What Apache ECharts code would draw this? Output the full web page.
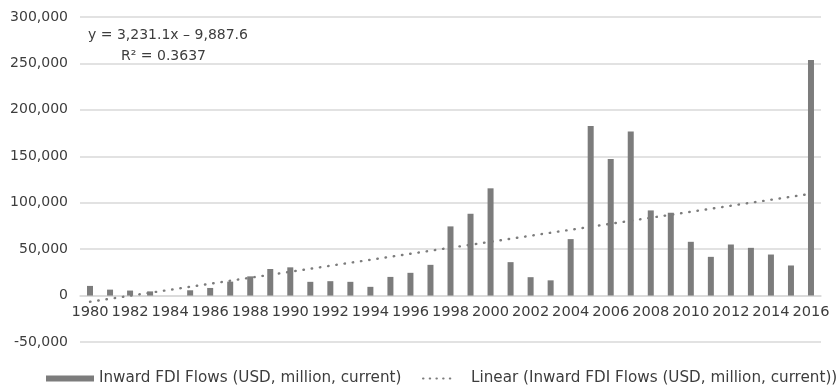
<!DOCTYPE html>
<html>
<head>
<meta charset="utf-8">
<script src="https://cdn.jsdelivr.net/npm/echarts@6/dist/echarts.min.js"></script>
<style>
  html, body { margin: 0; padding: 0; background: #ffffff; }
  #chart { width: 837px; height: 387px; }
</style>
</head>
<body>
<div id="chart"></div>
<script>
// Inward FDI flows, USD million (current prices), 1980–2016
const years = [
  '1980','1981','1982','1983','1984','1985','1986','1987','1988','1989',
  '1990','1991','1992','1993','1994','1995','1996','1997','1998','1999',
  '2000','2001','2002','2003','2004','2005','2006','2007','2008','2009',
  '2010','2011','2012','2013','2014','2015','2016'
];
const inwardFdi = [
  10400, 6400, 5400, 4500, 0, 5700, 8200, 15000, 20700, 28600,
  30400, 14800, 15500, 14800, 9400, 20100, 24500, 33100, 74500, 88100,
  115500, 36000, 19800, 16400, 60800, 182700, 147100, 176600, 91700, 89200,
  57900, 41700, 55000, 51400, 44200, 32400, 253600
];

// Least-squares trend reported for the series (x = 1 for the first year)
const trendSlope = 3231.1;
const trendIntercept = -9887.6;
const trendR2 = 0.3637;

// Value axis ticks
const yMin = -50000;
const yMax = 300000;
const yStep = 50000;

const barName = 'Inward FDI Flows (USD, million, current)';
const trendName = 'Linear (Inward FDI Flows (USD, million, current))';

const fmt = (v, d) => Math.abs(v).toLocaleString('en-US', { minimumFractionDigits: d, maximumFractionDigits: d });
const eqText = 'y = ' + fmt(trendSlope, 1) + 'x ' + (trendIntercept < 0 ? '\u2013 ' : '+ ') + fmt(trendIntercept, 1);
const r2Text = 'R\u00B2 = ' + trendR2.toFixed(4);

// Trend endpoints at the first and last category
const trendLine = [
  [0, trendSlope * 1 + trendIntercept],
  [years.length - 1, trendSlope * years.length + trendIntercept]
];

const textColor = '#3d3d3d';
const gridColor = '#d9d9d9';
const seriesGrey = '#7c7c7c';
const font = 'DejaVu Sans';

const gridTop = 17, gridBottom = 45, chartHeight = 387;
// The category axis sits on the zero line: lift it from the grid bottom
const plotHeight = chartHeight - gridTop - gridBottom;
const zeroLift = plotHeight * (0 - yMin) / (yMax - yMin);

const chart = echarts.init(document.getElementById('chart'), null, { renderer: 'canvas' });
chart.setOption({
  animation: false,
  backgroundColor: '#ffffff',
  textStyle: { fontFamily: font },
  grid: { left: 80, right: 16, top: gridTop, bottom: gridBottom, containLabel: false },
  xAxis: {
    type: 'category',
    data: years,
    boundaryGap: true,
    position: 'bottom',
    offset: -zeroLift,
    axisTick: { show: false },
    axisLine: { onZero: false, lineStyle: { color: gridColor, width: 1.5 } },
    axisLabel: { interval: 1, color: textColor, fontSize: 14.6, fontFamily: font, margin: 9 }
  },
  yAxis: {
    type: 'value',
    min: yMin,
    max: yMax,
    interval: yStep,
    axisLine: { show: false },
    axisTick: { show: false },
    splitLine: { lineStyle: { color: gridColor, width: 1.5 } },
    axisLabel: {
      color: textColor, fontSize: 14, fontFamily: font, margin: 12,
      formatter: v => (v < 0 ? '-' : '') + Math.abs(v).toLocaleString('en-US')
    }
  },
  legend: [
    {
      data: [{ name: barName, icon: 'rect' }],
      left: 41, top: 366,
      itemWidth: 48, itemHeight: 6,
      textStyle: { color: textColor, fontSize: 15.2, fontFamily: font }
    },
    {
      data: [{
        name: trendName,
        itemStyle: { opacity: 0 },
        lineStyle: { type: [0.5, 6.2], width: 2, cap: 'round', color: seriesGrey }
      }],
      left: 417, top: 366,
      itemWidth: 31, itemHeight: 6,
      textStyle: { color: textColor, fontSize: 15.2, fontFamily: font, padding: [0, 0, 0, 12] }
    }
  ],
  graphic: [
    {
      type: 'text', left: 88, top: 28,
      style: { text: eqText, fill: textColor, font: '14px "' + font + '"' }
    },
    {
      type: 'text', left: 121, top: 49,
      style: { text: r2Text, fill: textColor, font: '14px "' + font + '"' }
    }
  ],
  series: [
    {
      name: barName,
      type: 'bar',
      data: inwardFdi,
      barWidth: 6,
      itemStyle: { color: seriesGrey }
    },
    {
      name: trendName,
      type: 'line',
      data: trendLine,
      symbol: 'none',
      z: 3,
      itemStyle: { color: seriesGrey },
      lineStyle: { color: seriesGrey, width: 2.4, type: [0.5, 7.8], cap: 'round' }
    }
  ]
});
</script>
</body>
</html>
